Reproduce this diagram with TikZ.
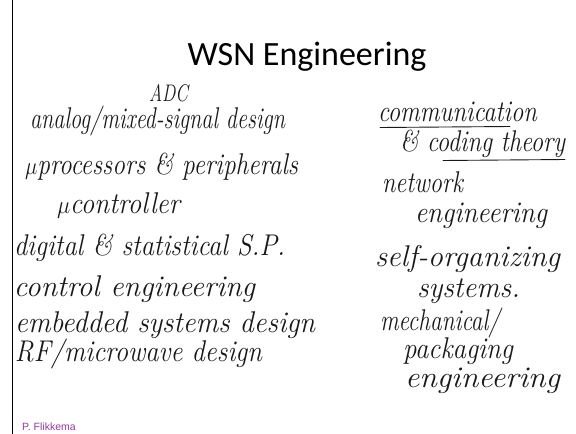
\documentclass[tikz,border=0pt]{standalone}
\usepackage{fontspec}
\usepackage{graphicx}
\newfontfamily\titlefont{Carlito}
\newfontfamily\creditfont{Liberation Sans}
\definecolor{creditpurple}{RGB}{150,55,165}
\definecolor{ink}{RGB}{25,25,25}
% handwritten line squeezed to a given width, natural height kept
\newcommand{\hw}[2]{\resizebox{#1pt}{\height}{#2}}
\begin{document}
\begin{tikzpicture}[x=1pt,y=-1pt,
  hand/.style={anchor=base west, inner sep=0pt, outer sep=0pt,
    font=\fontsize{30}{30}\selectfont\itshape, text=ink},
  smallhand/.style={hand, font=\fontsize{24}{24}\selectfont\itshape},
  titletext/.style={anchor=base, inner sep=0pt,
    font=\titlefont\fontsize{34}{34}\selectfont, text=black},
  credit/.style={anchor=base west, inner sep=0pt,
    font=\creditfont\fontsize{10.5}{10.5}\selectfont, text=creditpurple},
  stroke/.style={draw=ink, line width=0.9pt, line cap=round}]
\useasboundingbox[fill=white] (0,0) rectangle (576,434);
\draw[line width=0.8pt] (12.5,0) -- (12.5,434);

\node[titletext] (title) at (307,65) {WSN Engineering};

% left column
\node[smallhand] (adc) at (149,101) {\hw{39}{ADC}};
\node[hand] (amsd)  at (30,128)  {\hw{255}{analog/mixed-signal design}};
\node[hand] (mup)   at (25,174)  {\hw{273}{$\mu$processors \& peripherals}};
\node[hand] (muc)   at (57,213)  {\hw{123}{$\mu$controller}};
\node[hand] (dsp)   at (14,255)  {\hw{271}{digital \& statistical S.P.}};
\node[hand] (ctrl)  at (14,296)  {\hw{241}{control engineering}};
\node[hand] (emb)   at (15,332)  {\hw{300}{embedded systems design}};
\node[hand] (rf)    at (15,361)  {\hw{247}{RF/microwave design}};

% right column
\node[hand] (comm)  at (378,121) {\hw{159}{communication}};
\node[hand] (code)  at (400,151) {\hw{165}{\& coding theory}};
\node[hand] (net)   at (382,192) {\hw{81}{network}};
\node[hand] (neteng) at (415,222) {\hw{132}{engineering}};
\node[hand] (self)  at (375,266) {\hw{185}{self-organizing}};
\node[hand] (sys)   at (417,297) {\hw{103}{systems.}};
\node[hand] (mech)  at (380,330) {\hw{120}{mechanical/}};
\node[hand] (pack)  at (403,358) {\hw{110}{packaging}};
\node[hand] (mecheng) at (405,387) {\hw{155}{engineering}};

% underlines
\draw[stroke] (380,127.5) -- (510,126.5);
\draw[stroke] (443,160.5) -- (565,159.5);

\node[credit] (author) at (22,430) {P. Flikkema};
\end{tikzpicture}
\end{document}
